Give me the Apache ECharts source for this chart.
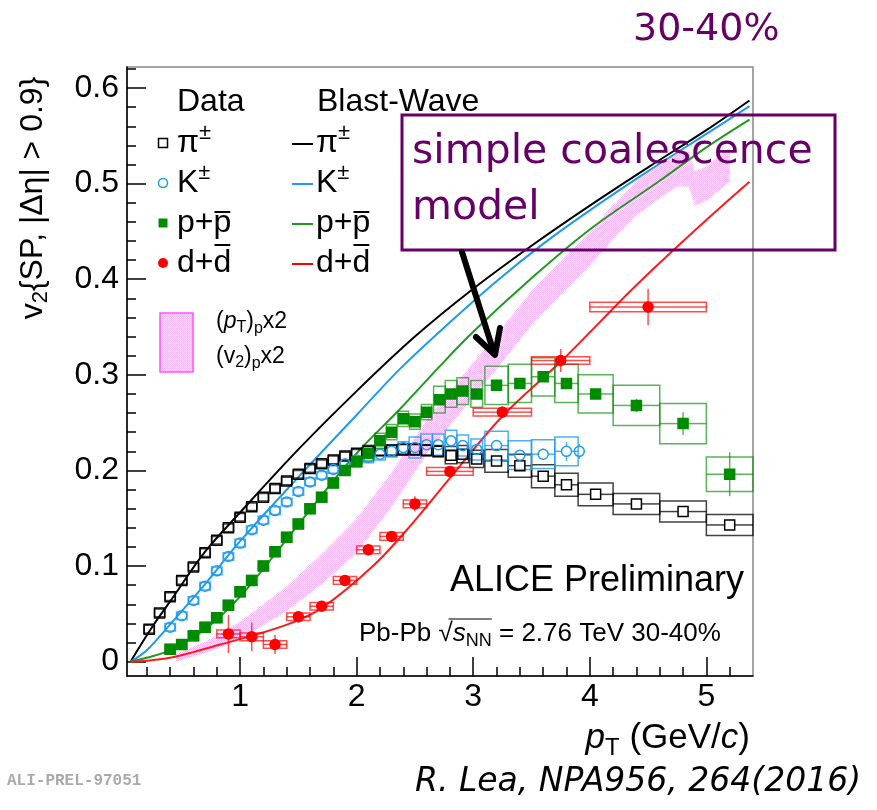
<!DOCTYPE html>
<html><head><meta charset="utf-8">
<script src="https://cdn.jsdelivr.net/npm/echarts@6/dist/echarts.min.js"></script>
<style>html,body{margin:0;padding:0;background:#fff}#c{width:877px;height:810px}</style>
</head><body><div id="c"></div>
<script>
// ---------------- data ----------------
const xMajorTicks = [1, 2, 3, 4, 5];
const xTickLabels = ['1', '2', '3', '4', '5'];
const yMajorTicks = [0, 0.1, 0.2, 0.3, 0.4, 0.5, 0.6];
const yTickLabels = ['0', '0.1', '0.2', '0.3', '0.4', '0.5', '0.6'];

const pionPt   = [0.22,0.31,0.40,0.50,0.60,0.70,0.80,0.90,1.00,1.10,1.20,1.30,1.40,1.50,1.60,1.70,1.80,1.90,2.00,2.10,2.20,2.30,2.40,2.50,2.60,2.70,2.81,2.91,3.03,3.20,3.40,3.60,3.80,4.05,4.40,4.80,5.20];
const pionV2   = [0.034,0.051,0.068,0.085,0.099,0.114,0.127,0.140,0.151,0.162,0.172,0.181,0.189,0.196,0.202,0.207,0.211,0.215,0.218,0.220,0.221,0.221,0.222,0.222,0.221,0.220,0.216,0.217,0.212,0.210,0.205,0.194,0.185,0.175,0.165,0.157,0.143];
const pionStat = [0,0,0,0,0,0,0,0,0,0,0,0,0,0,0,0,0,0,0,0,0,0,0,0,0,0,0,0,0,0,0,0,0,0.003,0.003,0.004,0.005];
const pionSysX = [0.045,0.045,0.045,0.045,0.045,0.045,0.045,0.045,0.045,0.045,0.045,0.045,0.045,0.045,0.045,0.045,0.045,0.045,0.045,0.045,0.045,0.045,0.045,0.045,0.045,0.045,0.05,0.05,0.06,0.1,0.1,0.1,0.1,0.15,0.2,0.2,0.2];
const pionSysY = [0.004,0.004,0.004,0.004,0.004,0.004,0.004,0.004,0.004,0.004,0.004,0.004,0.004,0.004,0.004,0.004,0.004,0.004,0.004,0.006,0.006,0.006,0.006,0.006,0.006,0.006,0.009,0.009,0.009,0.012,0.012,0.012,0.012,0.012,0.011,0.011,0.011];

const kaonPt   = [0.40,0.50,0.60,0.70,0.80,0.90,1.00,1.10,1.20,1.30,1.40,1.50,1.60,1.70,1.80,1.90,2.00,2.10,2.20,2.30,2.40,2.50,2.60,2.70,2.81,2.91,3.03,3.20,3.40,3.60,3.80,3.91];
const kaonV2   = [0.036,0.048,0.064,0.079,0.095,0.110,0.124,0.138,0.148,0.158,0.167,0.178,0.188,0.195,0.201,0.207,0.211,0.214,0.217,0.220,0.224,0.224,0.227,0.227,0.231,0.226,0.222,0.226,0.216,0.217,0.220,0.220];
const kaonStat = [0,0,0,0,0,0,0,0,0,0,0,0,0,0,0,0,0,0,0,0,0,0,0,0,0,0,0,0.004,0.004,0.006,0.010,0.008];
const kaonSysX = [0.045,0.045,0.045,0.045,0.045,0.045,0.045,0.045,0.045,0.045,0.045,0.045,0.045,0.045,0.045,0.045,0.045,0.045,0.045,0.045,0.045,0.05,0.05,0.05,0.05,0.05,0.05,0.1,0.1,0.1,0.1,0];
const kaonSysY = [0.004,0.004,0.004,0.004,0.004,0.004,0.004,0.004,0.004,0.004,0.004,0.004,0.004,0.004,0.004,0.004,0.004,0.006,0.006,0.006,0.006,0.011,0.011,0.011,0.011,0.011,0.011,0.015,0.015,0.015,0.015,0];

const protonPt   = [0.40,0.50,0.60,0.70,0.80,0.90,1.00,1.10,1.20,1.30,1.40,1.50,1.60,1.70,1.80,1.90,2.00,2.10,2.20,2.30,2.40,2.50,2.60,2.71,2.81,2.91,3.03,3.20,3.40,3.60,3.80,4.05,4.40,4.80,5.20];
const protonV2   = [0.013,0.018,0.027,0.036,0.046,0.059,0.073,0.085,0.100,0.115,0.130,0.144,0.160,0.172,0.187,0.200,0.209,0.218,0.231,0.240,0.254,0.251,0.261,0.274,0.280,0.283,0.280,0.289,0.291,0.298,0.291,0.280,0.268,0.249,0.196];
const protonStat = [0,0,0,0,0,0,0,0,0,0,0,0,0,0,0,0,0,0,0,0,0,0,0,0,0,0,0,0,0,0.003,0.004,0.005,0.007,0.012,0.023];
const protonSysX = [0.045,0.045,0.045,0.045,0.045,0.045,0.045,0.045,0.045,0.045,0.045,0.045,0.045,0.045,0.045,0.045,0.045,0.045,0.045,0.045,0.045,0.045,0.045,0.05,0.05,0.05,0.05,0.1,0.1,0.1,0.1,0.15,0.2,0.2,0.2];
const protonSysY = [0.005,0.005,0.005,0.005,0.005,0.005,0.005,0.005,0.005,0.005,0.005,0.005,0.005,0.005,0.005,0.005,0.005,0.008,0.008,0.008,0.008,0.008,0.008,0.014,0.014,0.014,0.014,0.02,0.02,0.02,0.02,0.02,0.021,0.021,0.018];

const deutPt   = [0.90,1.10,1.30,1.50,1.70,1.90,2.10,2.30,2.50,2.80,3.25,3.75,4.50];
const deutV2   = [0.029,0.026,0.018,0.047,0.058,0.085,0.117,0.131,0.165,0.199,0.261,0.315,0.371];
const deutStat = [0.020,0.015,0.010,0.006,0.004,0.004,0.006,0.004,0.008,0.004,0.006,0.012,0.019];
const deutSysX = [0.1,0.1,0.1,0.1,0.1,0.1,0.1,0.1,0.1,0.2,0.25,0.25,0.5];
const deutSysY = [0.004,0.004,0.004,0.004,0.004,0.004,0.004,0.004,0.004,0.004,0.004,0.004,0.005];

const bwPionPt = [0.06,0.25,0.4,0.7,1.0,1.5,2.0,2.5,3.0,3.5,4.0,4.5,5.0,5.37];
const bwPionV2 = [0.0,0.037,0.063,0.115,0.156,0.222,0.283,0.340,0.390,0.435,0.477,0.517,0.556,0.587];
const bwKaonPt = [0.06,0.2,0.4,0.7,1.0,1.5,2.0,2.37,2.8,3.2,3.6,4.0,4.5,5.0,5.37];
const bwKaonV2 = [0.0,0.012,0.039,0.081,0.126,0.193,0.258,0.306,0.355,0.398,0.437,0.472,0.513,0.552,0.581];
const bwProtonPt = [0.06,0.2,0.4,0.7,1.0,1.4,1.7,2.0,2.37,2.69,3.0,3.49,4.0,4.6,5.0,5.37];
const bwProtonV2 = [0.0,0.004,0.012,0.034,0.068,0.128,0.174,0.218,0.264,0.306,0.345,0.400,0.452,0.503,0.538,0.567];
const bwDeutPt = [0.06,0.2,0.4,0.6,0.83,1.1,1.43,1.7,2.14,2.46,2.8,3.26,3.76,4.41,5.0,5.37];
const bwDeutV2 = [0.0,0.001,0.004,0.010,0.018,0.027,0.040,0.056,0.100,0.142,0.192,0.258,0.315,0.395,0.462,0.502];

const bandPt = [0.45,0.7,0.9,1.1,1.4,1.7,2.0,2.3,2.6,2.8,3.0,3.2,3.5,3.74,4.0,4.2,4.4,4.6,4.75,4.85,4.9,5.0,5.2];
const bandLo = [0.000,0.009,0.018,0.031,0.053,0.081,0.114,0.162,0.217,0.247,0.277,0.306,0.352,0.382,0.414,0.442,0.467,0.485,0.497,0.497,0.477,0.482,0.502];
const bandHi = [0.008,0.021,0.034,0.051,0.079,0.113,0.150,0.198,0.253,0.283,0.313,0.342,0.388,0.418,0.450,0.478,0.503,0.521,0.533,0.533,0.513,0.518,0.538];

// ---------------- setup ----------------
const XMIN = 0.03, XMAX = 5.4, YMIN = -0.015, YMAX = 0.622;
const xMinorTicks = []; for (let i = 1; i <= 26; i++) xMinorTicks.push(+(i * 0.2).toFixed(2));
const yMinorTicks = []; for (let i = 1; i <= 31; i++) yMinorTicks.push(+(i * 0.02).toFixed(2));

const SANS = '"Liberation Sans", Arial, Helvetica, sans-serif';
const DV = '"DejaVu Sans", Verdana, sans-serif';
const MONO = '"Liberation Mono", "DejaVu Sans Mono", monospace';
const PURPLE = '#660066';
const C_PI = '#000000', C_K = '#1e9cf0', C_P = '#008c00', C_D = '#ff0000';

// pink stipple pattern
const pc = document.createElement('canvas'); pc.width = 2; pc.height = 2;
const pg = pc.getContext('2d');
pg.fillStyle = 'rgba(255,190,255,0.22)'; pg.fillRect(0, 0, 2, 2);
pg.fillStyle = 'rgba(245,90,245,0.42)'; pg.fillRect(0, 0, 1, 1); pg.fillRect(1, 1, 1, 1);
const pinkPattern = { image: pc, repeat: 'repeat' };

const mctx = document.createElement('canvas').getContext('2d');
function fontStr(p) { return (p.it ? 'italic ' : '') + (p.b ? 'bold ' : '') + p.s + 'px ' + (p.ff || SANS); }
function tw(t, f) { mctx.font = f; return mctx.measureText(t).width; }
function run(parts, x, y, align, fill) {
  const fs = parts.map(fontStr), ws = parts.map((p, i) => tw(p.t, fs[i]));
  const W = ws.reduce((a, b) => a + b, 0);
  let cx = align === 'right' ? x - W : align === 'center' ? x - W / 2 : x;
  const els = [], pos = [];
  parts.forEach((p, i) => {
    pos.push(cx);
    els.push({ type: 'text', x: cx, y: y + (p.dy || 0), silent: true, z: 100,
      style: { text: p.t, font: fs[i], fill: p.fill || fill || '#000', align: 'left', verticalAlign: 'middle' } });
    cx += ws[i];
  });
  return { els, pos, ws, W };
}
function hl(x1, x2, y, color, w) {
  return { type: 'line', silent: true, z: 100, shape: { x1: x1, y1: y, x2: x2, y2: y }, style: { stroke: color || '#000', lineWidth: w || 2 } };
}

function errSeries(pts, v2, stat, sx, sy, color, lw, half) {
  return {
    type: 'custom', z: 4, silent: true, coordinateSystem: 'cartesian2d', xAxisIndex: 0, yAxisIndex: 0,
    data: pts.map((x, i) => [x, v2[i], stat[i], sx[i], sy[i]]),
    encode: { x: 0, y: 1 },
    renderItem: function (params, api) {
      const x = api.value(0), y = api.value(1), st = api.value(2), dx = api.value(3), dy = api.value(4);
      const c = api.coord([x, y]); const ch = [];
      const ls = { stroke: color, lineWidth: lw, fill: 'none' };
      if (dx > 0 && dy > 0) {
        const a = api.coord([x - dx, y + dy]), b = api.coord([x + dx, y - dy]);
        ch.push({ type: 'rect', shape: { x: a[0], y: a[1], width: b[0] - a[0], height: b[1] - a[1] }, style: ls });
      }
      if (dx > 0) {
        const l = api.coord([x - dx, y])[0], r = api.coord([x + dx, y])[0];
        if (c[0] - half > l) ch.push({ type: 'line', shape: { x1: l, y1: c[1], x2: c[0] - half, y2: c[1] }, style: ls });
        if (r > c[0] + half) ch.push({ type: 'line', shape: { x1: c[0] + half, y1: c[1], x2: r, y2: c[1] }, style: ls });
      }
      if (st > 0) {
        const t = api.coord([x, y + st])[1], bt = api.coord([x, y - st])[1];
        if (c[1] - half > t) ch.push({ type: 'line', shape: { x1: c[0], y1: t, x2: c[0], y2: c[1] - half }, style: ls });
        if (bt > c[1] + half) ch.push({ type: 'line', shape: { x1: c[0], y1: c[1] + half, x2: c[0], y2: bt }, style: ls });
      }
      return { type: 'group', children: ch };
    }
  };
}
function scatterSeries(pts, v2, symbol, size, fill, stroke) {
  return { type: 'scatter', z: 5, silent: true, symbol: symbol, symbolSize: size,
    data: pts.map((x, i) => [x, v2[i]]),
    itemStyle: { color: fill, borderColor: stroke, borderWidth: 1.5, opacity: 1 } };
}
function bwSeries(pts, v2, color) {
  return { type: 'line', z: 3, silent: true, smooth: 0.35, showSymbol: false, symbol: 'none',
    data: pts.map((x, i) => [x, v2[i]]), lineStyle: { color: color, width: 2 } };
}

const bandSeries = {
  type: 'custom', z: 2, silent: true, coordinateSystem: 'cartesian2d',
  data: bandPt.map((x, i) => [x, bandLo[i], bandHi[i]]), encode: { x: 0, y: [1, 2] },
  renderItem: function (params, api) {
    if (params.dataIndex !== 0) return null;
    const pts = [];
    for (let i = 0; i < bandPt.length; i++) pts.push(api.coord([bandPt[i], bandHi[i]]));
    for (let i = bandPt.length - 1; i >= 0; i--) pts.push(api.coord([bandPt[i], bandLo[i]]));
    return { type: 'polygon', shape: { points: pts }, style: { fill: pinkPattern, stroke: 'none' } };
  }
};

// ---------------- graphics (texts etc.) ----------------
const G = [];
const yt = run([{ t: 'v', s: 32 }, { t: '2', s: 22, dy: 8 }, { t: '{SP, |\u0394\u03B7| > 0.9}', s: 32 }], 0, 0, 'center');
G.push({ type: 'group', x: 33, y: 198, rotation: Math.PI / 2, children: yt.els });
G.push(...run([{ t: 'p', s: 35, it: 1 }, { t: 'T', s: 24, dy: 10 }, { t: ' (GeV/', s: 35 }, { t: 'c', s: 35, it: 1 }, { t: ')', s: 35 }], 750, 738, 'right').els);
G.push(...run([{ t: 'Data', s: 32 }], 177, 102).els);
G.push(...run([{ t: 'Blast-Wave', s: 32 }], 317, 102).els);
const rowsY = [143, 183, 223, 263];
function legendRow(x, y, kind) {
  if (kind === 0) G.push(...run([{ t: '\u03C0', s: 32 }, { t: '\u00B1', s: 22, dy: -10 }], x, y).els);
  if (kind === 1) G.push(...run([{ t: 'K', s: 32 }, { t: '\u00B1', s: 22, dy: -10 }], x, y).els);
  if (kind === 2) { const r = run([{ t: 'p+', s: 32 }, { t: 'p', s: 32 }], x, y); G.push(...r.els); G.push(hl(r.pos[1] + 1, r.pos[1] + r.ws[1] - 1, y - 11)); }
  if (kind === 3) { const r = run([{ t: 'd+', s: 32 }, { t: 'd', s: 32 }], x, y); G.push(...r.els); G.push(hl(r.pos[1] + 1, r.pos[1] + r.ws[1] - 1, y - 18)); }
}
for (let k = 0; k < 4; k++) { legendRow(177, rowsY[k], k); legendRow(316, rowsY[k], k); }
G.push({ type: 'rect', z: 100, silent: true, shape: { x: 158.5, y: 138.5, width: 9, height: 9 }, style: { fill: 'none', stroke: C_PI, lineWidth: 1.5 } });
G.push({ type: 'circle', z: 100, silent: true, shape: { cx: 163, cy: 183, r: 4.5 }, style: { fill: 'none', stroke: C_K, lineWidth: 1.5 } });
G.push({ type: 'rect', z: 100, silent: true, shape: { x: 158.5, y: 218.5, width: 9, height: 9 }, style: { fill: C_P } });
G.push({ type: 'circle', z: 100, silent: true, shape: { cx: 163, cy: 263, r: 5 }, style: { fill: C_D } });
[C_PI, C_K, '#1e9b1e', C_D].forEach((c, k) => G.push(hl(292, 313, rowsY[k] + 1, c, 2)));
G.push({ type: 'rect', z: 100, silent: true, shape: { x: 160, y: 313, width: 33, height: 59 }, style: { fill: pinkPattern, stroke: '#ff50ff', lineWidth: 1.5 } });
G.push(...run([{ t: '(', s: 23 }, { t: 'p', s: 23, it: 1 }, { t: 'T', s: 16, dy: 6 }, { t: ')', s: 23 }, { t: 'p', s: 16, dy: 7 }, { t: 'x2', s: 23 }], 216, 322).els);
G.push(...run([{ t: '(v', s: 23 }, { t: '2', s: 16, dy: 6 }, { t: ')', s: 23 }, { t: 'p', s: 16, dy: 7 }, { t: 'x2', s: 23 }], 216, 357).els);
G.push(...run([{ t: 'ALICE Preliminary', s: 36 }], 744, 581, 'right').els);
const pb = run([{ t: 'Pb-Pb ', s: 26 }, { t: '\u221A', s: 26 }, { t: 's', s: 26, it: 1 }, { t: 'NN', s: 18, dy: 7 }, { t: ' = 2.76 TeV 30-40%', s: 26 }], 359, 634);
G.push(...pb.els);
G.push(hl(pb.pos[1] + pb.ws[1] * 0.7, pb.pos[3] + pb.ws[3], 619, '#000', 1.2));
G.push(...run([{ t: '30-40%', s: 38, ff: DV }], 633, 30, 'left', PURPLE).els);
G.push({ type: 'rect', z: 100, silent: true, shape: { x: 402, y: 115, width: 433, height: 135 }, style: { fill: 'none', stroke: PURPLE, lineWidth: 3 } });
G.push(...run([{ t: 'simple coalescence', s: 41, ff: DV }], 412, 152, 'left', PURPLE).els);
G.push(...run([{ t: 'model', s: 41, ff: DV }], 412, 208, 'left', PURPLE).els);
G.push({ type: 'polyline', z: 101, silent: true, shape: { points: [[462, 252], [494, 353]] }, style: { stroke: '#000', lineWidth: 6, lineCap: 'round', fill: 'none' } });
G.push({ type: 'polyline', z: 101, silent: true, shape: { points: [[476, 337], [495, 355], [500, 328]] }, style: { stroke: '#000', lineWidth: 6, lineCap: 'round', lineJoin: 'round', fill: 'none' } });
G.push(...run([{ t: 'R. Lea, NPA956, 264(2016)', s: 33, it: 1, ff: DV }], 415, 782).els);
G.push(...run([{ t: 'ALI-PREL-97051', s: 16, b: 1, ff: MONO }], 7, 781, 'left', '#aaaaaa').els);

// ---------------- option ----------------
const tickLine = { color: '#000', width: 1.5 };
const chart = echarts.init(document.getElementById('c'), null, { renderer: 'canvas' });
chart.setOption({
  animation: false,
  backgroundColor: '#ffffff',
  grid: { left: 127, right: 124, top: 67, bottom: 134, show: true, borderColor: '#888', borderWidth: 1.5, backgroundColor: 'transparent' },
  xAxis: [
    { type: 'value', position: 'bottom', min: XMIN, max: XMAX,
      axisLine: { show: true, onZero: false, lineStyle: tickLine },
      axisTick: { show: true, inside: true, length: 19, customValues: xMajorTicks, lineStyle: tickLine },
      axisLabel: { show: true, customValues: xMajorTicks, fontSize: 32, fontFamily: SANS, color: '#000', margin: 5,
        formatter: v => { const i = xMajorTicks.findIndex(t => Math.abs(t - v) < 1e-9); return i >= 0 ? xTickLabels[i] : ''; } },
      splitLine: { show: false } },
    { type: 'value', position: 'bottom', min: XMIN, max: XMAX,
      axisLine: { show: false, onZero: false },
      axisTick: { show: true, inside: true, length: 9, customValues: xMinorTicks, lineStyle: tickLine },
      axisLabel: { show: false }, splitLine: { show: false } }
  ],
  yAxis: [
    { type: 'value', position: 'left', min: YMIN, max: YMAX,
      axisLine: { show: true, onZero: false, lineStyle: tickLine },
      axisTick: { show: true, inside: true, length: 19, customValues: yMajorTicks, lineStyle: tickLine },
      axisLabel: { show: true, customValues: yMajorTicks, fontSize: 32, fontFamily: SANS, color: '#000', margin: 8,
        formatter: v => { const i = yMajorTicks.findIndex(t => Math.abs(t - v) < 1e-9); return i >= 0 ? yTickLabels[i] : ''; } },
      splitLine: { show: false } },
    { type: 'value', position: 'left', min: YMIN, max: YMAX,
      axisLine: { show: false, onZero: false },
      axisTick: { show: true, inside: true, length: 9, customValues: yMinorTicks, lineStyle: tickLine },
      axisLabel: { show: false }, splitLine: { show: false } }
  ],
  series: [
    bandSeries,
    bwSeries(bwPionPt, bwPionV2, '#000000'),
    bwSeries(bwKaonPt, bwKaonV2, '#1a9cf0'),
    bwSeries(bwProtonPt, bwProtonV2, '#1e9b1e'),
    bwSeries(bwDeutPt, bwDeutV2, '#ff1a1a'),
    errSeries(pionPt, pionV2, pionStat, pionSysX, pionSysY, 'rgba(0,0,0,0.75)', 1.5, 5),
    errSeries(kaonPt, kaonV2, kaonStat, kaonSysX, kaonSysY, 'rgba(30,156,240,0.8)', 1.5, 5),
    errSeries(protonPt, protonV2, protonStat, protonSysX, protonSysY, 'rgba(0,140,0,0.65)', 1.5, 5),
    errSeries(deutPt, deutV2, deutStat, deutSysX, deutSysY, 'rgba(255,0,0,0.7)', 1.5, 5),
    scatterSeries(pionPt, pionV2, 'rect', 10, 'rgba(255,255,255,0)', C_PI),
    scatterSeries(kaonPt, kaonV2, 'circle', 10, 'rgba(255,255,255,0)', C_K),
    scatterSeries(protonPt, protonV2, 'rect', 10, C_P, C_P),
    scatterSeries(deutPt, deutV2, 'circle', 10, C_D, C_D)
  ],
  graphic: G
});
</script></body></html>
